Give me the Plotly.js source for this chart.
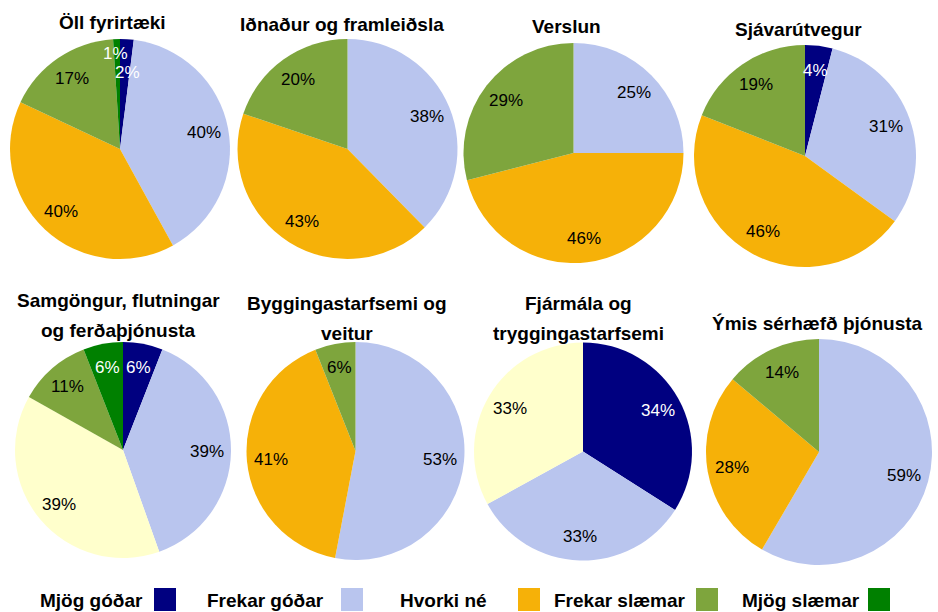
<!DOCTYPE html>
<html>
<head>
<meta charset="utf-8">
<script src="https://cdn.plot.ly/plotly-3.0.1.min.js"></script>
<style>html,body{margin:0;padding:0;background:#fff}#chart{width:938px;height:612px}</style>
</head>
<body>
<div id="chart"></div>
<script>
// ---- data ----
const categories = ["Mjög góðar", "Frekar góðar", "Hvorki né", "Frekar slæmar", "Mjög slæmar"];
const titles = [
  "Öll fyrirtæki",
  "Iðnaður og framleiðsla",
  "Verslun",
  "Sjávarútvegur",
  "Samgöngur, flutningar<br>og ferðaþjónusta",
  "Byggingastarfsemi og<br>veitur",
  "Fjármála og<br>tryggingastarfsemi",
  "Ýmis sérhæfð þjónusta"
];
const ollFyrirtaeki   = [2, 40, 40, 17, 1];
const idnadur         = [0, 38, 43, 20, 0];
const verslun         = [0, 25, 46, 29, 0];
const sjavarutvegur   = [4, 31, 46, 19, 0];
const samgongur       = [6, 39, 39, 11, 6];
const byggingar       = [0, 53, 41, 6, 0];
const fjarmala        = [34, 33, 33, 0, 0];
const ymisThjonusta   = [0, 59, 28, 14, 0];
const series = [ollFyrirtaeki, idnadur, verslun, sjavarutvegur, samgongur, byggingar, fjarmala, ymisThjonusta];

// ---- styles / layout positions ----
const W = 938, H = 612;
const baseColors = ["#000080", "#B9C5EE", "#F6B108", "#7EA53D", "#008000"];
const altHvorkiColor = "#FFFFCC";
const hvorkiAlt = [false, false, false, false, true, false, true, false];
const labelColors = ["#ffffff", "#000000", "#000000", "#000000", "#ffffff"];
const pieGeom = [
  {cx: 120,   cy: 149,   r: 110},
  {cx: 347.5, cy: 149,   r: 110},
  {cx: 573.5, cy: 153,   r: 110},
  {cx: 805,   cy: 156,   r: 111},
  {cx: 123,   cy: 450,   r: 108},
  {cx: 355.5, cy: 451,   r: 109},
  {cx: 583,   cy: 451.5, r: 109},
  {cx: 819,   cy: 452,   r: 113}
];
const titleGeom = [
  {x: 112, y: 23}, {x: 342, y: 25}, {x: 566, y: 27}, {x: 798, y: 29},
  {x: 118, y: 300}, {x: 347, y: 303}, {x: 578, y: 303}, {x: 817, y: 323}
];
const titleLineGap = 30;
const labelRadius = 0.78;
const legendTextX = [38, 205, 398, 552, 740];
const legendBoxX = [154, 341, 518, 696, 868];
const legendY = 600;

const FONT = "Liberation Sans, Arial, sans-serif";
const px = x => x / W;
const py = y => 1 - y / H;

const traces = [];
const annotations = [];
const shapes = [];

series.forEach((vals, i) => {
  const g = pieGeom[i];
  const colors = baseColors.slice();
  if (hvorkiAlt[i]) colors[2] = altHvorkiColor;
  traces.push({
    type: "pie",
    labels: categories,
    values: vals,
    sort: false,
    direction: "clockwise",
    rotation: 0,
    textinfo: "none",
    hoverinfo: "label+percent",
    showlegend: false,
    marker: {colors: colors, line: {width: 0}},
    domain: {x: [px(g.cx - g.r), px(g.cx + g.r)], y: [py(g.cy + g.r), py(g.cy - g.r)]}
  });

  // percentage labels along slice bisectors
  const total = vals.reduce((a, b) => a + b, 0);
  let cum = 0;
  const labs = [];
  vals.forEach((v, k) => {
    if (v > 0) {
      const a = (cum + v / 2) / total * 2 * Math.PI;
      labs.push({x: g.cx + labelRadius * g.r * Math.sin(a), y: g.cy - labelRadius * g.r * Math.cos(a), text: v + "%", k: k});
    }
    cum += v;
  });
  // separate overlapping labels
  for (let m = 1; m < labs.length; m++) {
    for (let n = 0; n < m; n++) {
      if (Math.abs(labs[m].x - labs[n].x) < 26 && Math.abs(labs[m].y - labs[n].y) < 12) {
        labs[n].y += 9; labs[m].y -= 10;
        labs[n].x += 2; labs[m].x -= 2;
      }
    }
  }
  labs.forEach(l => {
    annotations.push({
      xref: "paper", yref: "paper", x: px(l.x), y: py(l.y),
      xanchor: "center", yanchor: "middle", showarrow: false,
      text: l.text, borderpad: 0,
      font: {family: FONT, size: 17, color: labelColors[l.k]}
    });
  });

  // titles
  const t = titleGeom[i];
  titles[i].split("<br>").forEach((line, j) => {
    annotations.push({
      xref: "paper", yref: "paper", x: px(t.x), y: py(t.y + j * titleLineGap),
      xanchor: "center", yanchor: "middle", showarrow: false,
      text: "<b>" + line + "</b>",
      font: {family: FONT, size: 19, color: "#000000"}
    });
  });
});

// legend (text followed by swatch)
categories.forEach((c, k) => {
  annotations.push({
    xref: "paper", yref: "paper", x: px(legendTextX[k]), y: py(legendY),
    xanchor: "left", yanchor: "middle", showarrow: false,
    text: "<b>" + c + "</b>",
    font: {family: FONT, size: 19, color: "#000000"}
  });
  shapes.push({
    type: "rect", xref: "paper", yref: "paper",
    x0: px(legendBoxX[k]), x1: px(legendBoxX[k] + 22),
    y0: py(legendY + 11), y1: py(legendY - 12),
    fillcolor: baseColors[k], line: {width: 0}
  });
});

const layout = {
  width: W, height: H,
  margin: {l: 0, r: 0, t: 0, b: 0},
  paper_bgcolor: "#ffffff",
  showlegend: false,
  annotations: annotations,
  shapes: shapes
};

Plotly.newPlot("chart", traces, layout, {displayModeBar: false, staticPlot: true});
</script>
</body>
</html>
